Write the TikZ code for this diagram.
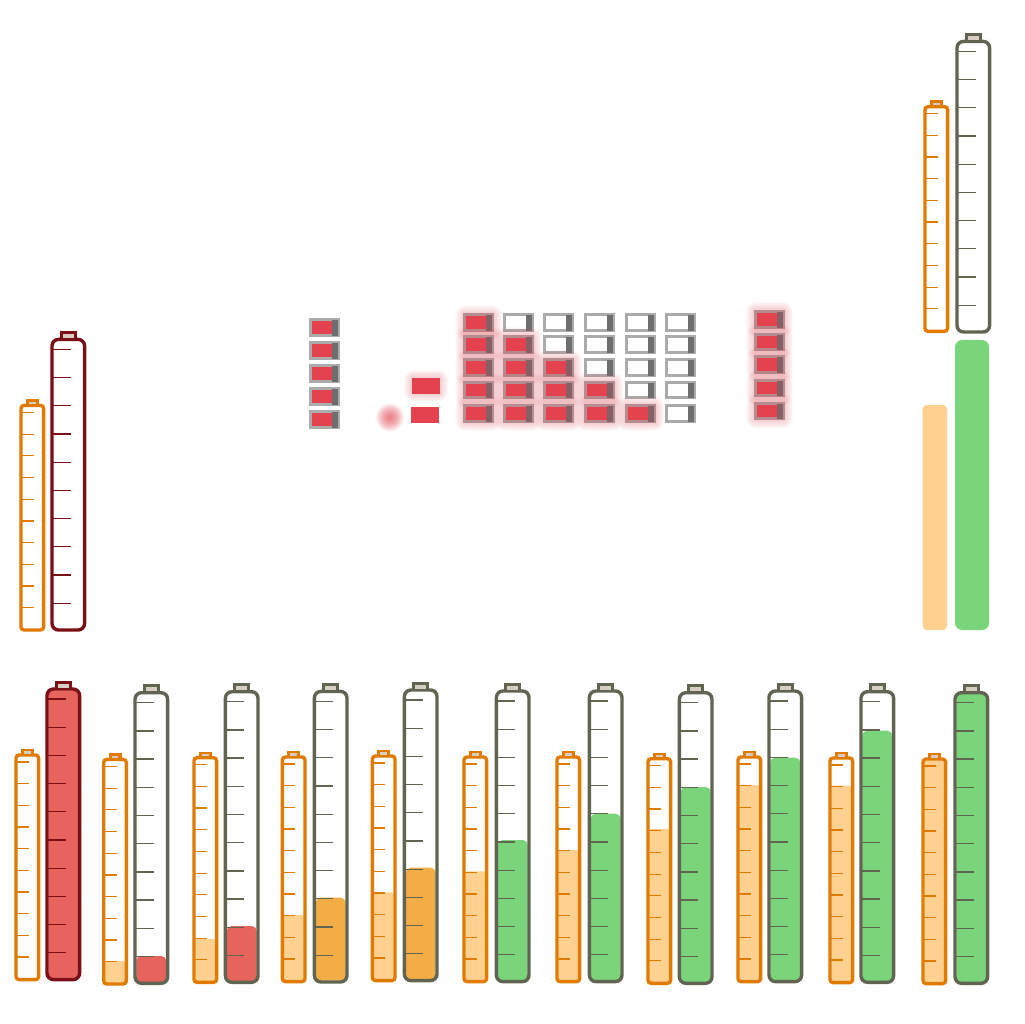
\documentclass[tikz,border=0pt]{standalone}
\definecolor{orS}{HTML}{E07B00}
\definecolor{ltO}{HTML}{FED190}
\definecolor{dkO}{HTML}{F3AD47}
\definecolor{rdF}{HTML}{E6645C}
\definecolor{grF}{HTML}{79D47A}
\definecolor{gyS}{HTML}{626452}
\definecolor{drS}{HTML}{7A0F16}
\definecolor{capL}{HTML}{D6CEC2}
\definecolor{bRed}{HTML}{E4424E}
\definecolor{bFrame}{HTML}{ABABAB}
\definecolor{bTerm}{HTML}{6E6E6E}
\tikzset{
  tick/.style={line width=1.3pt},
  tubeline/.style={line width=3.4pt},
}
% small tube: xl, ytop, stroke, fill top, fill colour
\newcommand\smtube[5]{%
  \fill[#5, rounded corners=2pt] (#1+3,#4) rectangle (#1+23,#2+225);
  \foreach \k in {0,...,9} {\draw[#3, tick] (#1+3,#2+8.8+21.67*\k) -- ++(11.7,0);}
  \draw[#3, tubeline, rounded corners=3pt] (#1+1.7,#2+1.7) rectangle (#1+24.3,#2+226.3);
  \fill[#3] (#1+6.5,#2-4.5) rectangle (#1+19.5,#2+1);
  \fill[capL] (#1+9.7,#2-2.2) rectangle (#1+16.3,#2+0.3);
}
% large tube
\newcommand\lgtube[5]{%
  \fill[#5, rounded corners=5pt] (#1+3,#4) rectangle (#1+33,#2+291);
  \foreach \k in {0,...,9} {\draw[#3, tick] (#1+3,#2+11.7+28.2*\k) -- ++(17.7,0);}
  \draw[#3, tubeline, rounded corners=6.5pt] (#1+1.7,#2+1.7) rectangle (#1+34.3,#2+292.3);
  \fill[#3] (#1+9.7,#2-6.7) rectangle (#1+26.3,#2+1);
  \fill[capL] (#1+12.7,#2-3.7) rectangle (#1+23.3,#2+0.3);
}
% battery: x, y, content colour
\newcommand\batt[3]{%
  \fill[bFrame] (#1,#2) rectangle ++(31,18.7);
  \fill[white] (#1+3,#2+3) rectangle ++(26,12.7);
  \fill[#3] (#1+3,#2+3) rectangle ++(20,12.7);
  \fill[bTerm] (#1+23,#2+2) rectangle ++(6,15.7);
}
% glow around a box
\newcommand\glowbox[4]{%
  \foreach \k in {0,...,9}
    {\fill[bRed, opacity=0.028, rounded corners=\k*1.1pt+0.5pt] (#1-\k*0.9,#2-\k*0.9) rectangle (#3+\k*0.9,#4+\k*0.9);}
}
\newcommand\rbatt[2]{\batt{#1}{#2}{bRed}\glowbox{#1}{#2}{#1+31}{#2+18.7}}
\begin{document}
\begin{tikzpicture}[x=1pt,y=-1pt]
\useasboundingbox (0,0) rectangle (1025,1024);
\fill[white] (0,0) rectangle (1025,1024);

% top-left pair
\smtube{19.3}{403.7}{orS}{500}{white}
\lgtube{50.3}{337.7}{drS}{500}{white}

% top-right pair
\smtube{923.3}{105}{orS}{200}{white}
\lgtube{955.3}{39.7}{gyS}{200}{white}
\fill[ltO, rounded corners=4pt] (922.7,405) rectangle (947,630);
\fill[grF, rounded corners=7pt] (955,340) rectangle (989,630);

% bottom row
\smtube{14.3}{753.3}{orS}{900}{white}
\lgtube{45.3}{687.3}{drS}{690.3}{rdF}
\smtube{102}{757.7}{orS}{961}{ltO}
\lgtube{133.3}{691}{gyS}{956}{rdF}
\smtube{192.3}{756}{orS}{939}{ltO}
\lgtube{223.7}{690}{gyS}{926}{rdF}
\smtube{280.7}{755.3}{orS}{915}{ltO}
\lgtube{312.7}{689.7}{gyS}{897.7}{dkO}
\smtube{370.7}{754.3}{orS}{892.3}{ltO}
\lgtube{402.7}{688.3}{gyS}{867.7}{dkO}
\smtube{462.3}{755.3}{orS}{871.3}{ltO}
\lgtube{494.7}{689.3}{gyS}{840}{grF}
\smtube{555.3}{755.3}{orS}{850}{ltO}
\lgtube{587.7}{689.3}{gyS}{813.7}{grF}
\smtube{646.3}{757}{orS}{829}{ltO}
\lgtube{677.7}{691}{gyS}{787}{grF}
\smtube{736.3}{755.3}{orS}{785}{ltO}
\lgtube{767.3}{689.3}{gyS}{757.7}{grF}
\smtube{828.3}{756.3}{orS}{785.7}{ltO}
\lgtube{859.3}{690}{gyS}{730.7}{grF}
\smtube{921.3}{757.3}{orS}{760.3}{ltO}
\lgtube{953.3}{691}{gyS}{694}{grF}

% left battery column (no glow)
\foreach \y in {318,341,364,387,410} {\batt{309}{\y}{bRed}}

% blob and two bars
\foreach \r in {2,...,14} {\fill[bRed, opacity=0.07] (390,417.5) circle (\r);}
\fill[bRed] (412,377.7) rectangle (440,393.7);
\glowbox{412}{377.7}{440}{393.7}
\fill[bRed] (411,407) rectangle (439,423);

% grid of batteries
\foreach \c/\x in {1/463.3,2/503,3/543,4/584,5/625,6/665}{
  \foreach \r/\y in {1/313.3,2/335,3/358.3,4/380.7,5/404.3}{
    \ifnum\r<\c
      \batt{\x}{\y}{white}
    \else
      \ifnum\c=6
        \batt{\x}{\y}{white}
      \else
        \rbatt{\x}{\y}
      \fi
    \fi
  }
}

% right battery column
\foreach \y in {310,332.7,355.3,378.7,401.7} {\rbatt{754}{\y}}
\end{tikzpicture}
\end{document}
